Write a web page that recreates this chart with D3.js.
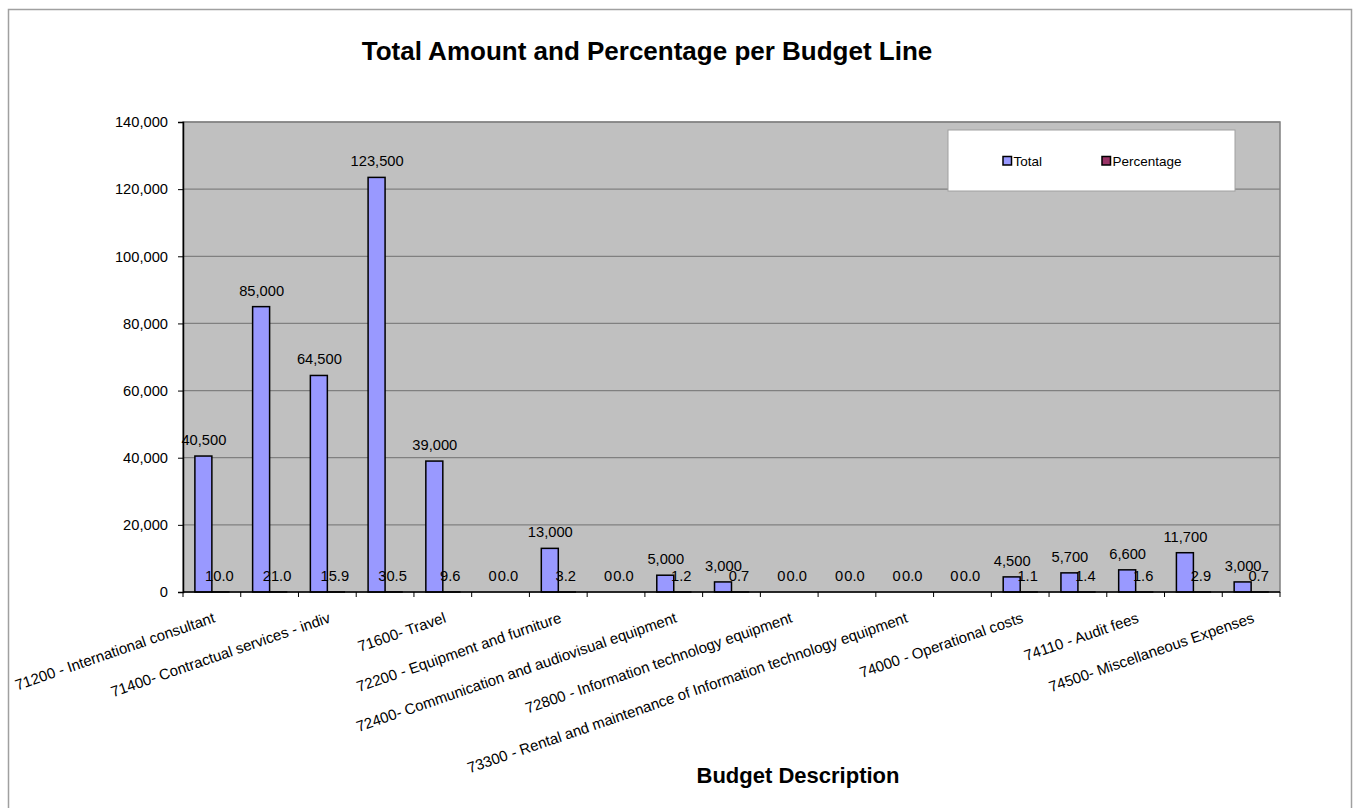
<!DOCTYPE html>
<html>
<head>
<meta charset="utf-8">
<script src="https://cdn.jsdelivr.net/npm/d3@7"></script>
<style>
  body { margin: 0; background: #fff; }
  svg text { font-family: "Liberation Sans", Arial, sans-serif; fill: #000; }
</style>
</head>
<body>
<svg id="chart"></svg>
<script>
// Budget lines (only every other label is shown on the axis, like Excel's auto skip)
const categories = [
    "71200 - International consultant",
    "71300 - Local consultants",
    "71400- Contractual services - indiv",
    "71500 - UN Volunteers",
    "71600- Travel",
    "72100 - Contractual services - companies",
    "72200 - Equipment and furniture",
    "72300 - Materials and goods",
    "72400- Communication and audiovisual equipment",
    "72500 - Supplies",
    "72800 - Information technology equipment",
    "73100 - Rental and maintenance - premises",
    "73300 - Rental and maintenance of Information technology equipment",
    "73400 - Rental and maintenance of other equipment",
    "74000 - Operational costs",
    "74100 - Professional services",
    "74110 - Audit fees",
    "74200 - Audio visual and print production costs",
    "74500- Miscellaneous Expenses"
];
const totalValues = [40500, 85000, 64500, 123500, 39000, 0, 13000, 0, 5000, 3000, 0, 0, 0, 0, 4500, 5700, 6600, 11700, 3000];
const percentValues = [10.0, 21.0, 15.9, 30.5, 9.6, 0.0, 3.2, 0.0, 1.2, 0.7, 0.0, 0.0, 0.0, 0.0, 1.1, 1.4, 1.6, 2.9, 0.7];
const seriesNames = ["Total", "Percentage"];
const seriesColors = ["#9999FF", "#993366"];
const yTicks = [0, 20000, 40000, 60000, 80000, 100000, 120000, 140000];

const width = 1356;
const height = 808;
const plot = { left: 183, right: 1280, top: 122, bottom: 592 };

const svg = d3.select("#chart")
    .attr("width", width)
    .attr("height", height);

// chart area border
svg.append("rect")
    .attr("x", 8.5).attr("y", 9.5)
    .attr("width", 1343).attr("height", 820)
    .attr("fill", "#fff")
    .attr("stroke", "#a0a0a0")
    .attr("stroke-width", 1.5);

const xScale = d3.scaleBand()
    .domain(categories)
    .range([plot.left, plot.right])
    .padding(0);

const yScale = d3.scaleLinear()
    .domain([0, 140000])
    .range([plot.bottom, plot.top]);

const barW = xScale.bandwidth() / 3.4;
const xSeries = d3.scaleBand()
    .domain(seriesNames)
    .range([(xScale.bandwidth() - 2 * barW) / 2, (xScale.bandwidth() + 2 * barW) / 2]);

// plot area
svg.append("rect")
    .attr("x", plot.left).attr("y", plot.top)
    .attr("width", plot.right - plot.left)
    .attr("height", plot.bottom - plot.top)
    .attr("fill", "#C0C0C0")
    .attr("stroke", "#808080")
    .attr("stroke-width", 1.5);

// gridlines
svg.selectAll(".grid")
    .data(yTicks.slice(1))
    .enter()
    .append("line")
    .attr("class", "grid")
    .attr("x1", plot.left).attr("x2", plot.right)
    .attr("y1", d => yScale(d)).attr("y2", d => yScale(d))
    .attr("stroke", "#808080")
    .attr("stroke-width", 1.2);

// y axis
const yAxis = d3.axisLeft(yScale)
    .tickValues(yTicks)
    .tickFormat(d3.format(","))
    .tickSize(5)
    .tickPadding(10);

const yG = svg.append("g")
    .attr("transform", "translate(" + plot.left + ",0)")
    .call(yAxis);
yG.select(".domain").attr("stroke", "#000").attr("stroke-width", 1.5);
yG.selectAll(".tick line").attr("stroke", "#000");
yG.selectAll(".tick text")
    .style("font-size", "14.7px")
    .attr("fill", "#000");

// bars
const rows = categories.map((c, i) => ({ cat: c, values: [totalValues[i], percentValues[i]] }));

const groups = svg.selectAll(".group")
    .data(rows)
    .enter()
    .append("g")
    .attr("class", "group")
    .attr("transform", d => "translate(" + xScale(d.cat) + ",0)");

groups.selectAll("rect")
    .data(d => d.values.map((v, j) => ({ series: seriesNames[j], value: v, color: seriesColors[j] })))
    .enter()
    .append("rect")
    .attr("x", d => xSeries(d.series))
    .attr("y", d => yScale(d.value))
    .attr("width", xSeries.bandwidth())
    .attr("height", d => yScale(0) - yScale(d.value))
    .attr("fill", d => d.color)
    .attr("stroke", "#000")
    .attr("stroke-width", 1.5);

// data labels
groups.selectAll(".bar-label")
    .data(d => d.values.map((v, j) => ({ series: seriesNames[j], value: v })))
    .enter()
    .append("text")
    .attr("class", "bar-label")
    .attr("x", d => xSeries(d.series) + xSeries.bandwidth() / 2 + (d.series === "Total" ? 0.5 : -1))
    .attr("y", d => yScale(d.value) - 11)
    .style("text-anchor", "middle")
    .style("font-size", "14.7px")
    .text(d => d.series === "Total" ? d3.format(",")(d.value) : d3.format(".1f")(d.value));

// x axis line and ticks at category boundaries
svg.append("line")
    .attr("x1", plot.left).attr("x2", plot.right)
    .attr("y1", plot.bottom).attr("y2", plot.bottom)
    .attr("stroke", "#000")
    .attr("stroke-width", 1.5);

svg.selectAll(".x-tick")
    .data(categories.map(c => xScale(c)).concat([plot.right]))
    .enter()
    .append("line")
    .attr("class", "x-tick")
    .attr("x1", d => d).attr("x2", d => d)
    .attr("y1", plot.bottom).attr("y2", plot.bottom + 5)
    .attr("stroke", "#000");

// rotated category labels, every other one
svg.selectAll(".x-label")
    .data(categories.filter((c, i) => i % 2 === 0))
    .enter()
    .append("text")
    .attr("class", "x-label")
    .attr("transform", d => "translate(" + (xScale(d) + xScale.bandwidth() / 2 + 4) + ",622) rotate(-19)")
    .style("text-anchor", "end")
    .style("font-size", "15px")
    .text(d => d);

// legend
const legend = svg.append("g");
legend.append("rect")
    .attr("x", 948).attr("y", 130)
    .attr("width", 287).attr("height", 61)
    .attr("fill", "#fff")
    .attr("stroke", "#a0a0a0")
    .attr("stroke-width", 1);

const legendX = [1003, 1102];
seriesNames.forEach((s, i) => {
    legend.append("rect")
        .attr("x", legendX[i]).attr("y", 156.5)
        .attr("width", 8.5).attr("height", 8.5)
        .attr("fill", seriesColors[i])
        .attr("stroke", "#000")
        .attr("stroke-width", 1.5);
    legend.append("text")
        .attr("x", legendX[i] + 10.5)
        .attr("y", 165.5)
        .style("font-size", "13.5px")
        .text(s);
});

// title
svg.append("text")
    .attr("x", 647)
    .attr("y", 60)
    .style("text-anchor", "middle")
    .style("font-weight", "bold")
    .style("font-size", "26px")
    .text("Total Amount and Percentage per Budget Line");

// x axis title
svg.append("text")
    .attr("x", 798)
    .attr("y", 783)
    .style("text-anchor", "middle")
    .style("font-weight", "bold")
    .style("font-size", "22px")
    .text("Budget Description");
</script>
</body>
</html>
